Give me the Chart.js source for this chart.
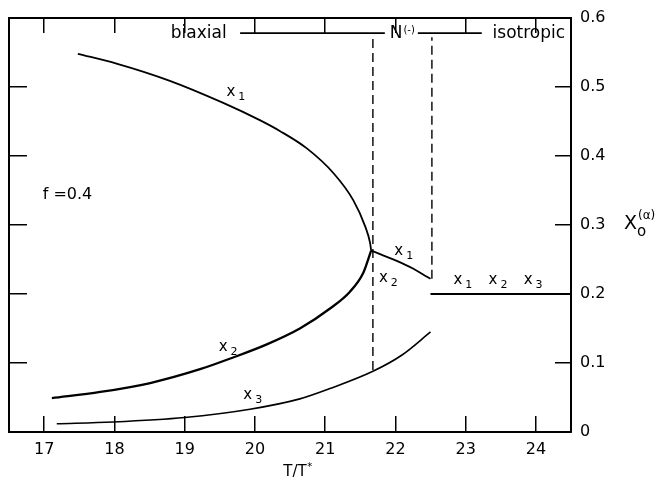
<!DOCTYPE html>
<html>
<head>
<meta charset="utf-8">
<script src="https://cdn.jsdelivr.net/npm/chart.js@4/dist/chart.umd.min.js"></script>
<style>
  html, body { margin: 0; padding: 0; background: #fff; }
</style>
</head>
<body>
<canvas id="chart" width="657" height="479"></canvas>
<script>
// axis ticks
const xTicks = [17, 18, 19, 20, 21, 22, 23, 24];
const yTicks = [0, 0.1, 0.2, 0.3, 0.4, 0.5, 0.6];

// branches as [T/T*, X]
const x1Biaxial = [[17.48, 0.548], [18.03, 0.534], [18.79, 0.509], [19.55, 0.477], [20.07, 0.452],
  [20.36, 0.436], [20.74, 0.411], [21.12, 0.375], [21.40, 0.336], [21.57, 0.298], [21.64, 0.274], [21.655, 0.263]];
const x2Biaxial = [[17.11, 0.049], [17.80, 0.058], [18.51, 0.071], [19.22, 0.091], [19.69, 0.108],
  [20.17, 0.127], [20.64, 0.150], [21.07, 0.179], [21.35, 0.203], [21.54, 0.230], [21.655, 0.263]];
const x1Uniaxial = [[21.655, 0.263], [21.80, 0.257], [22.02, 0.248], [22.25, 0.237], [22.45, 0.225], [22.50, 0.222]];
const x3Curve = [[17.18, 0.012], [17.98, 0.0145], [19.0, 0.021], [19.93, 0.033], [20.64, 0.048],
  [21.07, 0.063], [21.68, 0.088], [22.10, 0.112], [22.50, 0.145]];
const isotropic = [[22.50, 0.200], [24.50, 0.200]];

// phase boundaries
const transitions = [[21.68, 0.090, 0.572], [22.52, 0.222, 0.572]];
const phaseBar = [[19.79, 21.85], [22.32, 23.23]];
const phaseY = 0.578;

// text labels in data coordinates
const curveLabels = [
  { t: 'x', s: '1', x: 19.73, y: 0.493 },
  { t: 'x', s: '2', x: 19.62, y: 0.123 },
  { t: 'x', s: '3', x: 19.97, y: 0.054 },
  { t: 'x', s: '1', x: 22.12, y: 0.262 },
  { t: 'x', s: '2', x: 21.90, y: 0.223 },
  { t: 'x', s: '1', x: 22.96, y: 0.220 },
  { t: 'x', s: '2', x: 23.46, y: 0.220 },
  { t: 'x', s: '3', x: 23.96, y: 0.220 }
];

const FONT = '"DejaVu Sans", sans-serif';
const pts = arr => arr.map(p => ({ x: p[0], y: p[1] }));

function curve(arr, width) {
  return {
    data: pts(arr),
    showLine: true,
    borderColor: '#000',
    borderWidth: width,
    pointRadius: 0,
    cubicInterpolationMode: 'monotone',
    fill: false
  };
}

const datasets = [
  curve(x1Biaxial, 1.8),
  curve(x2Biaxial, 2.3),
  curve(x1Uniaxial, 1.8),
  curve(x3Curve, 1.6),
  curve(isotropic, 1.8)
];
transitions.forEach(t => {
  datasets.push({
    data: [{ x: t[0], y: t[1] }, { x: t[0], y: t[2] }],
    showLine: true, borderColor: '#000', borderWidth: 1.4,
    borderDash: [9, 5], pointRadius: 0
  });
});
phaseBar.forEach(b => {
  datasets.push({
    data: [{ x: b[0], y: phaseY }, { x: b[1], y: phaseY }],
    showLine: true, borderColor: '#000', borderWidth: 1.7, pointRadius: 0
  });
});

// writes the annotation text on top of the plot
const textPlugin = {
  id: 'texts',
  afterDraw(chart) {
    const ctx = chart.ctx;
    const xs = chart.scales.x, ys = chart.scales.y;
    ctx.save();
    ctx.fillStyle = '#000';
    ctx.textBaseline = 'middle';
    ctx.textAlign = 'left';

    curveLabels.forEach(l => {
      const px = xs.getPixelForValue(l.x), py = ys.getPixelForValue(l.y);
      ctx.font = '15px ' + FONT;
      const w = ctx.measureText(l.t).width;
      ctx.font = '11px ' + FONT;
      const sw = ctx.measureText(l.s).width;
      const x0 = px - (w + sw + 3) / 2;
      ctx.font = '15px ' + FONT;
      ctx.fillText(l.t, x0, py);
      ctx.font = '11px ' + FONT;
      ctx.fillText(l.s, x0 + w + 3, py + 5);
    });

    const py = ys.getPixelForValue(phaseY);
    ctx.font = '17px ' + FONT;
    ctx.textAlign = 'center';
    ctx.fillText('biaxial', xs.getPixelForValue(19.20), py);
    ctx.fillText('isotropic', xs.getPixelForValue(23.90), py);
    ctx.textAlign = 'left';
    const nx = xs.getPixelForValue(21.92);
    ctx.fillText('N', nx, py);
    const nw = ctx.measureText('N').width;
    ctx.font = '10px ' + FONT;
    ctx.fillText('(-)', nx + nw + 1, py - 3);

    ctx.font = '16px ' + FONT;
    ctx.fillText('f =0.4', xs.getPixelForValue(16.98), ys.getPixelForValue(0.343));

    // axis titles
    ctx.textAlign = 'center';
    ctx.font = '15px ' + FONT;
    const tx = (chart.chartArea.left + chart.chartArea.right) / 2 + 5;
    ctx.fillText('T/T', tx, 472);
    const tw = ctx.measureText('T/T').width;
    ctx.font = '10px ' + FONT;
    ctx.fillText('*', tx + tw / 2 + 3, 467);

    ctx.textAlign = 'left';
    ctx.font = '19px ' + FONT;
    ctx.fillText('X', 624, 224);
    ctx.font = '12px ' + FONT;
    ctx.fillText('(α)', 638, 216);
    ctx.font = '15px ' + FONT;
    ctx.fillText('o', 637, 232);
    ctx.restore();
  }
};

const setTicks = vals => scale => { scale.ticks = vals.map(v => ({ value: v })); };
const fitTo = (w, h) => s => {
  if (w !== null) s.width = w;
  if (h !== null) s.height = h;
  s.paddingTop = 0; s.paddingBottom = 0; s.paddingLeft = 0; s.paddingRight = 0;
};

new Chart(document.getElementById('chart'), {
  type: 'scatter',
  data: { datasets: datasets },
  options: {
    responsive: false,
    animation: false,
    events: [],
    layout: { padding: { left: 9, top: 18, right: 0, bottom: 0 } },
    plugins: { legend: { display: false }, tooltip: { enabled: false } },
    scales: {
      x: {
        type: 'linear', position: 'bottom', min: 16.5, max: 24.5,
        afterBuildTicks: setTicks(xTicks),
        afterFit: fitTo(null, 47),
        border: { display: true, color: '#000', width: 2 },
        grid: { drawOnChartArea: false, tickLength: -16, color: '#000', lineWidth: 1.5 },
        ticks: { color: '#000', padding: 24, maxRotation: 0, font: { family: FONT, size: 16 } }
      },
      xTop: {
        type: 'linear', position: 'top', min: 16.5, max: 24.5,
        afterBuildTicks: setTicks(xTicks),
        afterFit: fitTo(null, 0),
        border: { display: true, color: '#000', width: 2 },
        grid: { drawOnChartArea: false, tickLength: -15, color: '#000', lineWidth: 1.5 },
        ticks: { display: false }
      },
      y: {
        type: 'linear', position: 'right', min: 0, max: 0.6,
        afterBuildTicks: setTicks(yTicks),
        afterFit: fitTo(86, null),
        border: { display: true, color: '#000', width: 2 },
        grid: { drawOnChartArea: false, tickLength: -16, color: '#000', lineWidth: 1.5 },
        ticks: {
          color: '#000', padding: 25, font: { family: FONT, size: 16 },
          callback: v => (v === 0 ? '0' : v.toFixed(1))
        }
      },
      yLeft: {
        type: 'linear', position: 'left', min: 0, max: 0.6,
        afterBuildTicks: setTicks(yTicks),
        afterFit: fitTo(0, null),
        border: { display: true, color: '#000', width: 2 },
        grid: { drawOnChartArea: false, tickLength: -18, color: '#000', lineWidth: 1.5 },
        ticks: { display: false }
      }
    }
  },
  plugins: [textPlugin]
});
</script>
</body>
</html>
